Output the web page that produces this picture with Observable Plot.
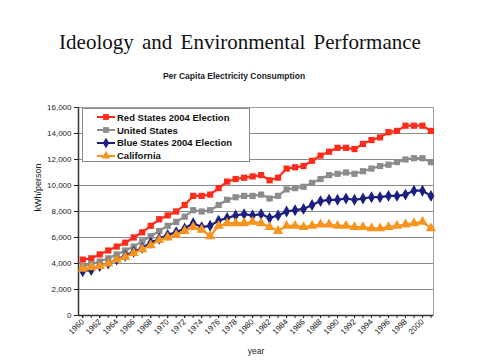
<!DOCTYPE html>
<html>
<head>
<meta charset="utf-8">
<script src="https://cdn.jsdelivr.net/npm/d3@7"></script>
<script src="https://cdn.jsdelivr.net/npm/@observablehq/plot@0.6"></script>
<style>
  html, body { margin: 0; padding: 0; background: #fff; }
  #wrap { position: relative; width: 480px; height: 360px; overflow: hidden; }
  #title { position: absolute; left: 0; width: 480px; top: 30px; text-align: center;
           font-family: "Liberation Serif", "Times New Roman", serif; font-size: 21px; color: #111; word-spacing: 3px; }
  #subtitle { position: absolute; left: 0; width: 468px; top: 71px; text-align: center;
           font-family: "Liberation Sans", Arial, sans-serif; font-size: 8.5px; font-weight: bold; color: #222; }
  #chart { position: absolute; left: 0; top: 0; }
  #legend { position: absolute; left: 82px; top: 108px; width: 168px; height: 54px; box-sizing: border-box;
            border: 1px solid #888; background: #fff; padding: 2px 0 0 14px;
            font-family: "Liberation Sans", Arial, sans-serif; font-size: 9.5px; font-weight: bold; color: #111; }
  .row { height: 12.8px; display: flex; align-items: center; }
  .row svg { margin-right: 2px; }
</style>
</head>
<body>
<div id="wrap">
  <div id="chart"></div>
  <div id="title">Ideology and Environmental Performance</div>
  <div id="subtitle">Per Capita Electricity Consumption</div>
  <div id="legend"></div>
</div>
<script>
const years = [1960,1961,1962,1963,1964,1965,1966,1967,1968,1969,1970,1971,1972,1973,1974,1975,1976,1977,1978,1979,1980,
               1981,1982,1983,1984,1985,1986,1987,1988,1989,1990,1991,1992,1993,1994,1995,1996,1997,1998,1999,2000,2001];
const seriesNames = ["Red States 2004 Election", "United States", "Blue States 2004 Election", "California"];
const redStates = [4300,4400,4700,5000,5300,5600,6000,6400,6900,7400,7700,8000,8500,9200,9200,9300,9800,10300,10500,10600,10700,
                   10800,10400,10600,11300,11400,11500,11900,12300,12600,12900,12900,12800,13200,13500,13700,14100,14200,14600,14600,14600,14200];
const unitedStates = [3800,3950,4150,4400,4700,5000,5300,5700,6100,6500,6900,7200,7600,8100,8000,8100,8500,8900,9100,9200,9200,
                      9300,9000,9200,9700,9800,9900,10200,10500,10800,10900,11000,10900,11100,11300,11500,11600,11800,12000,12100,12100,11800];
const blueStates = [3400,3500,3800,4000,4300,4600,4900,5200,5600,5900,6200,6400,6700,7100,6800,6900,7300,7500,7700,7800,7700,
                    7800,7500,7700,8000,8100,8200,8500,8800,8900,8900,9000,8900,9000,9100,9100,9200,9200,9300,9600,9600,9200];
const california = [3600,3700,3800,4000,4300,4500,4800,5100,5400,5800,6000,6200,6500,6800,6600,6100,6900,7100,7100,7100,7200,
                    7100,6800,6500,6900,6900,6800,6900,7000,7000,6900,6900,6800,6800,6700,6700,6800,6900,7000,7100,7200,6700];
const yTicks = [0,2000,4000,6000,8000,10000,12000,14000,16000];
const xLabelTicks = [1960,1962,1964,1966,1968,1970,1972,1974,1976,1978,1980,1982,1984,1986,1988,1990,1992,1994,1996,1998,2000];

const colors = ["#ff2a1a", "#8c8c8c", "#1a1f80", "#f7941d"];
const symbols = ["square", "square", "diamond", "triangle"];
const sizes = [3.5, 3.5, 3.6, 3.8];
const valueArrays = [redStates, unitedStates, blueStates, california];

const data = [];
seriesNames.forEach((name, i) => {
  years.forEach((yr, j) => data.push({series: name, year: yr, value: valueArrays[i][j]}));
});

const marks = [
  Plot.gridY(yTicks, {stroke: "#8a8a8a", strokeOpacity: 1, strokeWidth: 1}),
  Plot.frame({stroke: "#a0a0a0"}),
  Plot.axisY(yTicks, {tickFormat: d3.format(","), fontSize: 8, tickSize: 4, tickPadding: 3, label: null}),
  Plot.text(["kWh/person"], {frameAnchor: "left", rotate: -90, dx: -40, fontSize: 9, fill: "#222"}),
  Plot.axisX(years, {tickSize: 3, text: null, label: null}),
  Plot.axisX(xLabelTicks, {tickRotate: -45, tickSize: 3, tickFormat: d => String(d), fontSize: 8, tickPadding: 2, label: null}),
  Plot.text(["year"], {frameAnchor: "bottom", dy: 38, fontSize: 8.5, fill: "#222"}),
  Plot.ruleX([1959.5], {stroke: "#333", strokeWidth: 1.5}),
  Plot.ruleY([0], {stroke: "#333", strokeWidth: 1.5})
];
seriesNames.forEach((name, i) => {
  const sub = data.filter(d => d.series === name);
  marks.push(Plot.line(sub, {x: "year", y: "value", stroke: colors[i], strokeWidth: 2.2}));
  marks.push(Plot.dot(sub, {x: "year", y: "value", fill: colors[i], stroke: "none", symbol: () => symbols[i], r: sizes[i]}));
});

const chart = Plot.plot({
  width: 480, height: 360,
  marginLeft: 78, marginRight: 47, marginTop: 107, marginBottom: 45,
  style: {fontFamily: "'Liberation Sans', Arial, sans-serif", color: "#222", background: "transparent"},
  x: {domain: [1959.5, 2001.3]},
  y: {domain: [0, 16000]},
  marks
});
document.getElementById("chart").appendChild(chart);

// legend
const legend = document.getElementById("legend");
seriesNames.forEach((name, i) => {
  const row = document.createElement("div");
  row.className = "row";
  const sym = d3.symbol().type(
    symbols[i] === "square" ? d3.symbolSquare : symbols[i] === "diamond" ? d3.symbolDiamond : d3.symbolTriangle
  ).size(34)();
  row.innerHTML = `<svg width="18" height="10"><line x1="0" x2="18" y1="5" y2="5" stroke="${colors[i]}" stroke-width="2"/>` +
    `<path d="${sym}" transform="translate(9,5)" fill="${colors[i]}"/></svg><span>${name}</span>`;
  legend.appendChild(row);
});
</script>
</body>
</html>
